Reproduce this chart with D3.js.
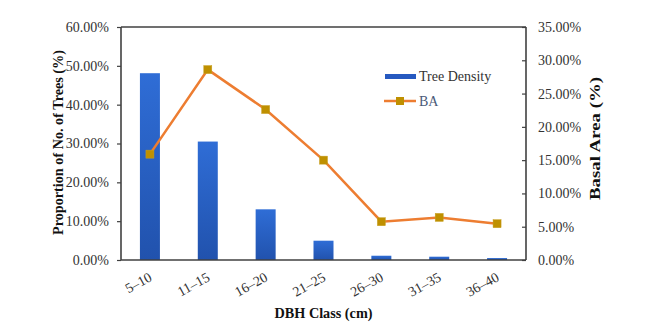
<!DOCTYPE html>
<html><head><meta charset="utf-8">
<script src="https://cdn.jsdelivr.net/npm/d3@7"></script>
<style>body{margin:0;background:#fff}svg{display:block}text{font-family:"Liberation Serif","Times New Roman",serif}</style>
</head><body>
<svg id="c" width="667" height="334"></svg>
<script>
const categories = ["5–10","11–15","16–20","21–25","26–30","31–35","36–40"];
const treeDensity = [0.481,0.305,0.1305,0.0497,0.011,0.0085,0.005];
const basalArea = [0.159,0.286,0.226,0.150,0.0575,0.064,0.0545];
const leftTicks = [0,0.1,0.2,0.3,0.4,0.5,0.6];
const rightTicks = [0,0.05,0.1,0.15,0.2,0.25,0.3,0.35];

const svg = d3.select("#c");
const L=121,R=526,T=27,B=260;
const x = d3.scaleBand().domain(categories).range([L,R]);
const yL = d3.scaleLinear().domain([0,0.6]).range([B,T]);
const yR = d3.scaleLinear().domain([0,0.35]).range([B,T]);
const axisCol="#404040", textCol="#333";

const defs=svg.append("defs");
const g=defs.append("linearGradient").attr("id","bg").attr("x1",0).attr("y1",0).attr("x2",0).attr("y2",1);
g.append("stop").attr("offset","0%").attr("stop-color","#2f6dd6");
g.append("stop").attr("offset","100%").attr("stop-color","#2152ad");

// bars
const bw=20;
svg.selectAll("rect.bar").data(treeDensity).join("rect")
 .attr("x",(d,i)=>x(categories[i])+x.bandwidth()/2-bw/2)
 .attr("y",d=>yL(d)).attr("width",bw).attr("height",d=>B-yL(d))
 .attr("fill","url(#bg)");

// axes
const fmt=d3.format(".2%");
const ax=svg.append("g").attr("transform",`translate(${L},0)`)
 .call(d3.axisLeft(yL).tickValues(leftTicks).tickFormat(fmt).tickSize(4).tickPadding(8));
const ar=svg.append("g").attr("transform",`translate(${R},0)`)
 .call(d3.axisRight(yR).tickValues(rightTicks).tickFormat(fmt).tickSize(-4).tickPadding(12));
[ax,ar].forEach(a=>{
 a.select(".domain").attr("stroke",axisCol).attr("stroke-width",1.6);
 a.selectAll(".tick line").attr("stroke",axisCol).attr("stroke-width",1.2);
 a.selectAll(".tick text").attr("fill",textCol).style("font-size","14px").style("font-family","Liberation Serif");
});
ax.select(".domain").attr("d",`M0,${T}V${B}`);
ar.select(".domain").attr("d",`M0,${T}V${B}`);
svg.append("line").attr("x1",L).attr("x2",R).attr("y1",T).attr("y2",T).attr("stroke",axisCol).attr("stroke-width",1.6);
svg.append("line").attr("x1",L).attr("x2",R).attr("y1",B).attr("y2",B).attr("stroke",axisCol).attr("stroke-width",1.6);

// x labels
svg.selectAll("text.xl").data(categories).join("text")
 .attr("text-anchor","end").attr("fill",textCol).style("font-size","14px")
 .attr("transform",d=>`translate(${x(d)+x.bandwidth()/2+3},${280}) rotate(-29)`)
 .text(d=>d);

// line
const line=d3.line().x((d,i)=>x(categories[i])+x.bandwidth()/2).y(d=>yR(d));
svg.append("path").datum(basalArea).attr("d",line).attr("fill","none").attr("stroke","#ed7d31").attr("stroke-width",2.5);
const ms=8;
svg.selectAll("rect.mk").data(basalArea).join("rect")
 .attr("x",(d,i)=>x(categories[i])+x.bandwidth()/2-ms/2).attr("y",d=>yR(d)-ms/2)
 .attr("width",ms).attr("height",ms).attr("fill","#bf9000").attr("stroke","#c8a020").attr("stroke-width",0.5);

// titles
svg.append("text").attr("text-anchor","middle").attr("font-weight","bold").style("font-size","14.5px").attr("fill","#111")
 .attr("textLength",185).attr("lengthAdjust","spacingAndGlyphs")
 .attr("transform",`translate(63,142.5) rotate(-90)`).text("Proportion of No. of Trees (%)");
svg.append("text").attr("text-anchor","middle").attr("font-weight","bold").style("font-size","14.5px").attr("fill","#111")
 .attr("textLength",123).attr("lengthAdjust","spacingAndGlyphs")
 .attr("transform",`translate(600,138.5) rotate(-90)`).text("Basal Area (%)");
svg.append("text").attr("text-anchor","middle").attr("font-weight","bold").style("font-size","14.5px").attr("fill","#111")
 .attr("textLength",98).attr("lengthAdjust","spacingAndGlyphs")
 .attr("x",(L+R)/2).attr("y",318).text("DBH Class (cm)");

// legend
const lg=svg.append("g");
lg.append("rect").attr("x",385).attr("y",74).attr("width",31).attr("height",5).attr("fill","#2659c0");
lg.append("text").attr("x",419).attr("y",81).style("font-size","14px").attr("fill",textCol).text("Tree Density");
lg.append("line").attr("x1",384).attr("x2",416).attr("y1",101).attr("y2",101).attr("stroke","#ed7d31").attr("stroke-width",2.5);
lg.append("rect").attr("x",400-ms/2).attr("y",101-ms/2).attr("width",ms).attr("height",ms).attr("fill","#bf9000");
lg.append("text").attr("x",419).attr("y",106).style("font-size","14px").attr("fill","#4a5a78").text("BA");
</script>
</body></html>
